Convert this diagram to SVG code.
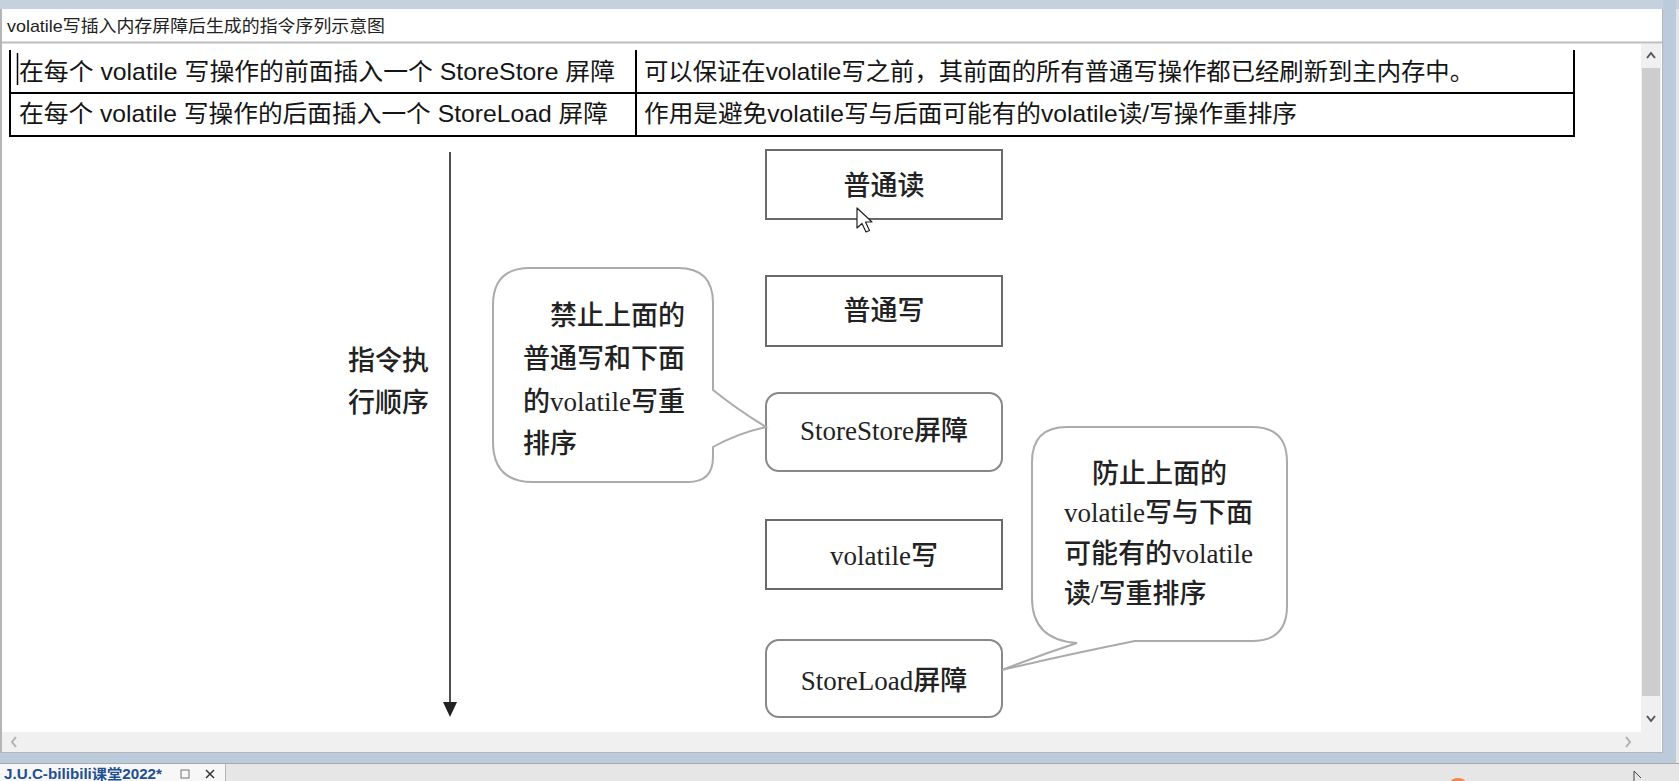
<svg xmlns="http://www.w3.org/2000/svg" width="1679" height="781" viewBox="0 0 1679 781">
<style>
.tbl{font-family:"Liberation Sans","Noto Sans CJK SC",sans-serif;font-size:24px;fill:#151515}
.ttl{font-family:"Liberation Sans","Noto Sans CJK SC",sans-serif;font-size:17px;fill:#222}
.dg{font-family:"Liberation Serif","Noto Sans CJK SC",serif;font-size:27px;font-weight:500;fill:#222}
.box{fill:#fff;stroke:#6a6a6a;stroke-width:2}
.rbox{fill:#fff;stroke:#888;stroke-width:2}
.bub{fill:#fff;stroke:#ababab;stroke-width:2}
.grid{stroke:#000;stroke-width:2;fill:none}
.ico{fill:none;stroke:#555;stroke-width:2}
.icol{fill:none;stroke:#b0b0b0;stroke-width:2}
</style>

<!-- window chrome -->
<rect x="0" y="0" width="1679" height="781" fill="#e6e6e6"/>
<rect x="0" y="0" width="1679" height="9" fill="#c5d1de"/>
<rect x="1663" y="0" width="13" height="763" fill="#bccbdc"/>
<rect x="0" y="753" width="1676" height="10" fill="#bccbdc"/>
<rect x="0" y="9" width="1663" height="744" fill="#b5b5b5"/>
<rect x="2" y="9" width="1660" height="743" fill="#ffffff"/>
<line x1="2" y1="42.5" x2="1662" y2="42.5" stroke="#bdbdbd" stroke-width="2"/>
<text class="ttl" x="7" y="32" textLength="378" lengthAdjust="spacingAndGlyphs">volatile写插入内存屏障后生成的指令序列示意图</text>

<!-- scrollbars -->
<rect x="1641" y="44" width="20" height="708" fill="#f0f0f0"/>
<rect x="2" y="732" width="1659" height="20" fill="#f0f0f0"/>
<rect x="1642" y="68" width="18" height="628" fill="#cdcdcd"/>
<polyline class="ico" points="1647,58 1651,53 1655,58"/>
<polyline class="ico" points="1647,716 1651,721 1655,716"/>
<polyline class="icol" points="16,737 12,742 16,747"/>
<polyline class="icol" points="1626,737 1630,742 1626,747"/>

<!-- bottom tab bar -->
<line x1="0" y1="763.5" x2="1679" y2="763.5" stroke="#a9a9a9" stroke-width="1"/>
<rect x="0" y="764" width="225" height="17" fill="#f7f7f7"/>
<line x1="225.5" y1="764" x2="225.5" y2="781" stroke="#b5b5b5" stroke-width="1"/>
<text x="4" y="779" font-family="Liberation Sans, Noto Sans CJK SC, sans-serif" font-size="14" font-weight="bold" fill="#1f4f91" textLength="158" lengthAdjust="spacingAndGlyphs">J.U.C-bilibili课堂2022*</text>
<rect x="181" y="770" width="8" height="8" fill="none" stroke="#777" stroke-width="1"/>
<path d="M206 770 L214 778 M214 770 L206 778" stroke="#333" stroke-width="1.5" fill="none"/>
<ellipse cx="1458" cy="781" rx="7" ry="3" fill="#f08a4b"/>
<path d="M1634 771 L1634 781 M1634 771 L1641 778" stroke="#444" stroke-width="1" fill="none"/>

<!-- table -->
<g id="table">
<line class="grid" x1="10" y1="50" x2="10" y2="137"/>
<line class="grid" x1="636" y1="50" x2="636" y2="137"/>
<line class="grid" x1="1574" y1="50" x2="1574" y2="137"/>
<line class="grid" x1="9" y1="93" x2="1575" y2="93"/>
<line class="grid" x1="9" y1="136" x2="1575" y2="136"/>
<line x1="17.5" y1="53" x2="17.5" y2="85" stroke="#000" stroke-width="1.5"/>
<text class="tbl" x="19" y="80" textLength="596" lengthAdjust="spacingAndGlyphs">在每个 volatile 写操作的前面插入一个 StoreStore 屏障</text>
<text class="tbl" x="19" y="122" textLength="589" lengthAdjust="spacingAndGlyphs">在每个 volatile 写操作的后面插入一个 StoreLoad 屏障</text>
<text class="tbl" x="644" y="80" textLength="830" lengthAdjust="spacingAndGlyphs">可以保证在volatile写之前，其前面的所有普通写操作都已经刷新到主内存中。</text>
<text class="tbl" x="644" y="122" textLength="653" lengthAdjust="spacingAndGlyphs">作用是避免volatile写与后面可能有的volatile读/写操作重排序</text>
</g>

<!-- connectors -->
<g id="connectors">
<line x1="450" y1="152" x2="450" y2="703" stroke="#222" stroke-width="1.6"/>
<polygon points="443,702 457,702 450,717" fill="#222"/>
</g>

<!-- order label -->
<g id="label-order">
<text class="dg" x="348" y="370">指令执</text>
<text class="dg" x="348" y="412">行顺序</text>
</g>

<!-- nodes -->
<g id="node-read">
<rect class="box" x="766" y="150" width="236" height="69"/>
<text class="dg" x="884" y="195" text-anchor="middle">普通读</text>
</g>
<g id="node-write">
<rect class="box" x="766" y="276" width="236" height="70"/>
<text class="dg" x="884" y="320" text-anchor="middle">普通写</text>
</g>
<g id="node-storestore">
<rect class="rbox" x="766" y="393" width="236" height="78" rx="13" ry="13"/>
<text class="dg" x="884" y="440" text-anchor="middle">StoreStore屏障</text>
</g>
<g id="node-volatile-write">
<rect class="box" x="766" y="520" width="236" height="69" stroke="#9a9a9a"/>
<text class="dg" x="884" y="565" text-anchor="middle">volatile写</text>
</g>
<g id="node-storeload">
<rect class="rbox" x="766" y="640" width="236" height="77" rx="13" ry="13"/>
<text class="dg" x="884" y="690" text-anchor="middle">StoreLoad屏障</text>
</g>

<g id="bubble-storestore">
<path class="bub" d="M530 268 H678 Q713 268 713 303 V390 Q738 410 766 427 Q738 433 713 447 V457 Q713 482 688 482 H533 Q493 482 493 442 V305 Q493 268 530 268 Z"/>
<text class="dg" x="550" y="325">禁止上面的</text>
<text class="dg" x="523" y="368">普通写和下面</text>
<text class="dg" x="523" y="411">的volatile写重</text>
<text class="dg" x="523" y="453">排序</text>
</g>

<g id="bubble-storeload">
<path class="bub" d="M1067 427 H1252 Q1287 427 1287 462 V606 Q1287 641 1252 641 H1135 Q1065 655 1002 670 Q1040 655 1077 643 Q1032 640 1032 598 V462 Q1032 427 1067 427 Z"/>
<text class="dg" x="1092" y="483">防止上面的</text>
<text class="dg" x="1064" y="522">volatile写与下面</text>
<text class="dg" x="1064" y="563">可能有的volatile</text>
<text class="dg" x="1064" y="603">读/写重排序</text>
</g>

<!-- mouse pointer -->
<path d="M857 208 L857 228 L862 223.5 L866 232 L869.5 230.5 L865.5 222 L872 222 Z" fill="#fff" stroke="#222" stroke-width="1.2" stroke-linejoin="round"/>
</svg>
